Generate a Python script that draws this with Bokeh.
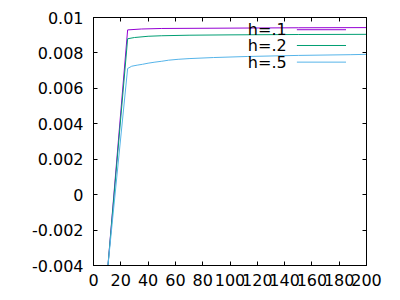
from bokeh.plotting import figure
from bokeh.models import Range1d, FixedTicker, LinearAxis, Label
from bokeh.embed import file_html
from bokeh.resources import INLINE

# ---- data ----
x_h1 = [10, 25, 35, 50, 100, 150, 200]
y_h1 = [-0.00455, 0.0093, 0.00935, 0.00938, 0.0094, 0.00942, 0.00943]

x_h2 = [10, 25, 30, 40, 50, 70, 100, 150, 200]
y_h2 = [-0.00453, 0.0088, 0.00887, 0.00894, 0.00897, 0.0090, 0.00902, 0.00904, 0.00905]

x_h5 = [10, 25, 28, 32, 36, 40, 45, 50, 55, 62, 70, 88, 113, 150, 188, 200]
y_h5 = [-0.00446, 0.00712, 0.00725, 0.00731, 0.00736, 0.00742, 0.00748, 0.00753,
        0.00759, 0.00764, 0.00768, 0.00774, 0.0078, 0.00786, 0.0079, 0.00792]

series_names = ["h=.1", "h=.2", "h=.5"]
series_colors = ["#9400d3", "#009e73", "#56b4e9"]

x_ticks = [0, 20, 40, 60, 80, 100, 120, 140, 160, 180, 200]
x_tick_labels = ["0", "20", "40", "60", "80", "100", "120", "140", "160", "180", "200"]
y_ticks = [-0.004, -0.002, 0, 0.002, 0.004, 0.006, 0.008, 0.01]
y_tick_labels = ["-0.004", "-0.002", "0", "0.002", "0.004", "0.006", "0.008", "0.01"]

FONT = "DejaVu Sans"
FS = "16px"

p = figure(width=400, height=300, output_backend="svg", toolbar_location=None,
           x_range=Range1d(0, 200), y_range=Range1d(-0.004, 0.01),
           min_border_left=93, min_border_right=34, min_border_top=17, min_border_bottom=35)
p.grid.visible = False
p.outline_line_color = "black"
p.outline_line_width = 1
p.background_fill_color = "white"
p.border_fill_color = "white"

def style_axis(ax, ticks, labels, standoff, show_labels=True):
    ax.ticker = FixedTicker(ticks=ticks)
    ax.major_label_overrides = {t: l for t, l in zip(ticks, labels)}
    ax.axis_line_color = "black"
    ax.major_tick_line_color = "black"
    ax.major_tick_in = 4
    ax.major_tick_out = 0
    ax.minor_tick_line_color = None
    ax.major_label_text_font = FONT
    ax.major_label_text_font_size = FS if show_labels else "0px"
    ax.major_label_text_color = "#000000" if show_labels else None
    ax.major_label_standoff = standoff

style_axis(p.xaxis[0], x_ticks, x_tick_labels, 8)
style_axis(p.yaxis[0], y_ticks, y_tick_labels, 10)

top = LinearAxis()
style_axis(top, x_ticks, x_tick_labels, 0, show_labels=False)
p.add_layout(top, "above")
right = LinearAxis()
style_axis(right, y_ticks, y_tick_labels, 0, show_labels=False)
p.add_layout(right, "right")

for xs, ys, c in [(x_h1, y_h1, series_colors[0]), (x_h2, y_h2, series_colors[1]),
                  (x_h5, y_h5, series_colors[2])]:
    p.line(xs, ys, line_color=c, line_width=1)

# legend (gnuplot style: text right-aligned, sample to the right)
LEG_TEXT_X = 141.5
LEG_X0, LEG_X1 = 149, 185
LEG_Y = [0.00931, 0.00842, 0.00748]
for name, c, ly in zip(series_names, series_colors, LEG_Y):
    p.add_layout(Label(x=LEG_TEXT_X, y=ly, text=name, text_align="right",
                       text_baseline="middle", text_font=FONT, text_font_size=FS,
                       text_color="black"))
    p.line([LEG_X0, LEG_X1], [ly, ly], line_color=c, line_width=1)

open("out.html", "w").write(file_html(p, INLINE))
